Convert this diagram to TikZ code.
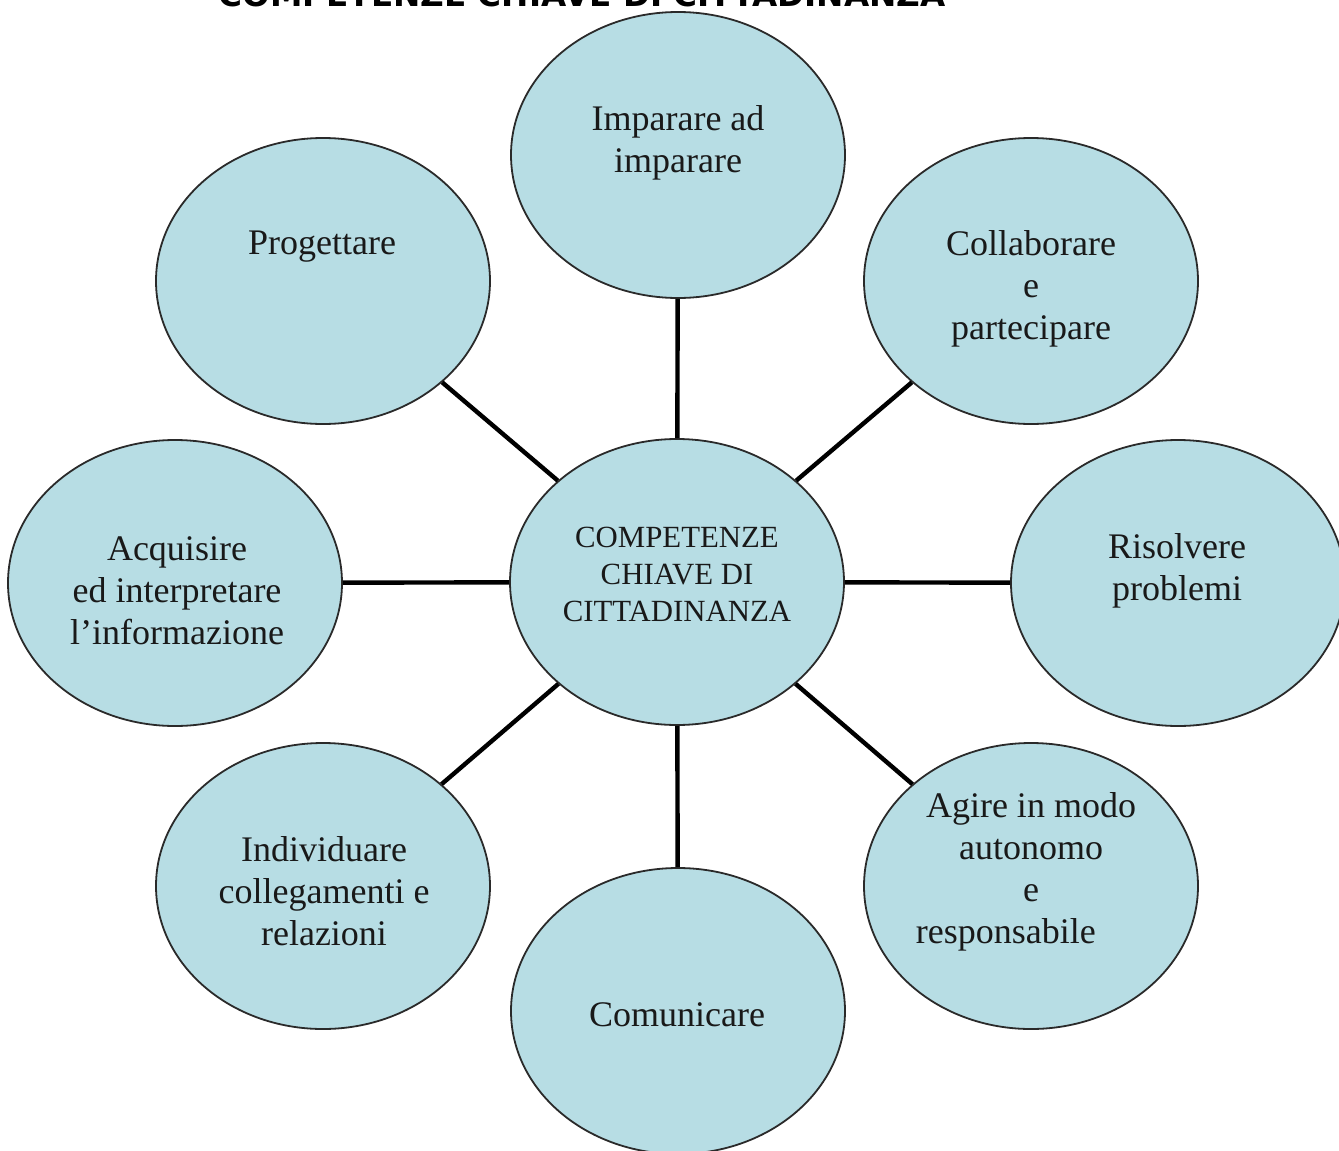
\documentclass[tikz,border=0pt]{standalone}
\usepackage{fontspec}
\setmainfont{Liberation Serif}
\newfontfamily\titlefont{DejaVu Sans}
\usetikzlibrary{shapes.geometric}
\definecolor{bubblefill}{HTML}{B7DDE4}
\definecolor{bubbleline}{HTML}{2A2A2A}
\begin{document}
\begin{tikzpicture}[x=1pt,y=-1pt,
  bubble/.style={ellipse, draw=bubbleline, line width=1.8pt, fill=bubblefill,
    inner sep=0pt, minimum width=334pt, minimum height=286pt},
  lbl/.style={align=center, inner sep=0pt, text=black!90,
    font=\fontsize{36}{42}\selectfont},
  clbl/.style={align=center, inner sep=0pt, text=black!90,
    font=\fontsize{30.8}{37}\selectfont},
  link/.style={line width=4.4pt, black}]
\useasboundingbox (0,0) rectangle (1339,1151);
\begin{scope}
\clip (0,0) rectangle (1339,1151);
\fill[white] (0,0) rectangle (1339,1151);
% title (cut off at the top edge)
\node[anchor=base, inner sep=0pt, font=\titlefont\bfseries\fontsize{32.6}{38}\selectfont]
  (title) at (582,6) {COMPETENZE CHIAVE DI CITTADINANZA};
% bubbles
\node[bubble] (C) at (677,582) {};
\node[bubble] (T) at (678,155) {};
\node[bubble] (P) at (323,281) {};
\node[bubble] (K) at (1031,281) {};
\node[bubble] (A) at (175,583) {};
\node[bubble] (R) at (1178,583) {};
\node[bubble] (I) at (323,886) {};
\node[bubble] (G) at (1031,886) {};
\node[bubble] (M) at (678,1011) {};
% connectors
\draw[link] (C) -- (T);
\draw[link] (C) -- (P);
\draw[link] (C) -- (K);
\draw[link] (C) -- (A);
\draw[link] (C) -- (R);
\draw[link] (C) -- (I);
\draw[link] (C) -- (G);
\draw[link] (C) -- (M);
% labels
\node[clbl] (tC) at (677,574) {COMPETENZE\\CHIAVE DI\\CITTADINANZA};
\node[lbl] (tT) at (678,143) {Imparare ad\\imparare};
\node[lbl] (tP) at (322,247) {Progettare};
\node[lbl] (tK) at (1031,289) {Collaborare\\e\\partecipare};
\node[lbl] (tA) at (177,591) {Acquisire\\ed interpretare\\l’informazione};
\node[lbl] (tR) at (1177,571) {Risolvere\\problemi};
\node[lbl] (tI) at (324,891) {Individuare\\collegamenti e\\relazioni};
\node[lbl] (tG) at (1031,872) {Agire in modo\\autonomo\\e\\responsabile\hspace*{1.4em}};
\node[lbl] (tM) at (677,1015) {Comunicare};
\end{scope}
\end{tikzpicture}
\end{document}
